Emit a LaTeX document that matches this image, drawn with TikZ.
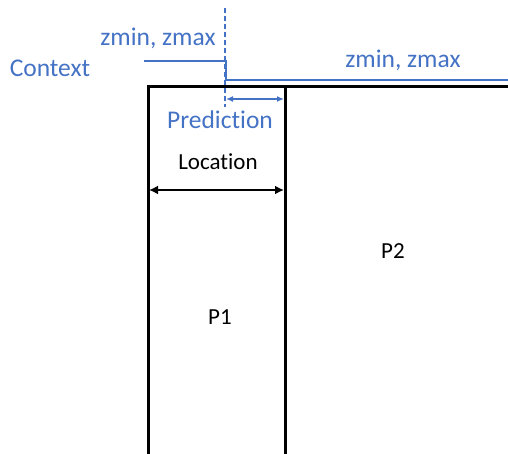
\documentclass[tikz,border=0pt]{standalone}
\usepackage{fontspec}
\setmainfont[RawFeature={-liga}]{Carlito}
\usetikzlibrary{arrows.meta}
\definecolor{bl}{HTML}{4472C4}
\begin{document}
\begin{tikzpicture}[x=1pt,y=-1pt,
  lbl/.style={inner sep=0pt,font=\fontsize{23}{27}\selectfont},
  bllbl/.style={inner sep=0pt,font=\fontsize{25.5}{30}\selectfont,text=bl},
  box/.style={line width=3pt,black},
  blue line/.style={line width=2pt,bl},
]
\useasboundingbox (0,0) rectangle (508,454);
% boxes
\coordinate (p1bl) at (148,460);
\coordinate (p1tl) at (148,87);
\coordinate (p1tr) at (285,87);
\coordinate (p1br) at (285,460);
\coordinate (p2tr) at (510,87);
\draw[box] (p1bl) -- (p1tl) -- (p1tr) -- (p1br);
\draw[box] (p1tr) -- (p2tr);
% dashed prediction start
\coordinate (dtop) at (225,8);
\coordinate (dbot) at (225,107);
\draw[bl,line width=1.6pt,dash pattern=on 5pt off 3pt] (dtop) -- (dbot);
% context step line
\coordinate (c0) at (144,61);
\coordinate (c1) at (226,61);
\coordinate (c2) at (226,80);
\coordinate (c3) at (510,80);
\draw[blue line] (c0) -- (c1) -- (c2) -- (c3);
% prediction arrow
\coordinate (pa) at (226,99);
\coordinate (pb) at (284,99);
\draw[bl,line width=1.4pt,{Latex[length=7pt,width=6pt]}-{Latex[length=7pt,width=6pt]}] (pa) -- (pb);
% location arrow
\coordinate (la) at (149,190);
\coordinate (lb) at (284,190);
\draw[line width=2.4pt,{Latex[length=9pt,width=9pt]}-{Latex[length=9pt,width=9pt]}] (la) -- (lb);
% labels
\node[bllbl] (zl) at (158,38) {zmin, zmax};
\node[bllbl] (ctx) at (50,68) {Context};
\node[bllbl] (zr) at (403,60) {zmin, zmax};
\node[bllbl] (pred) at (220,120) {Prediction};
\node[lbl] (loc) at (218,162) {Location};
\node[lbl] (p2) at (393,251) {P2};
\node[lbl] (p1) at (220,317) {P1};
\end{tikzpicture}
\end{document}
